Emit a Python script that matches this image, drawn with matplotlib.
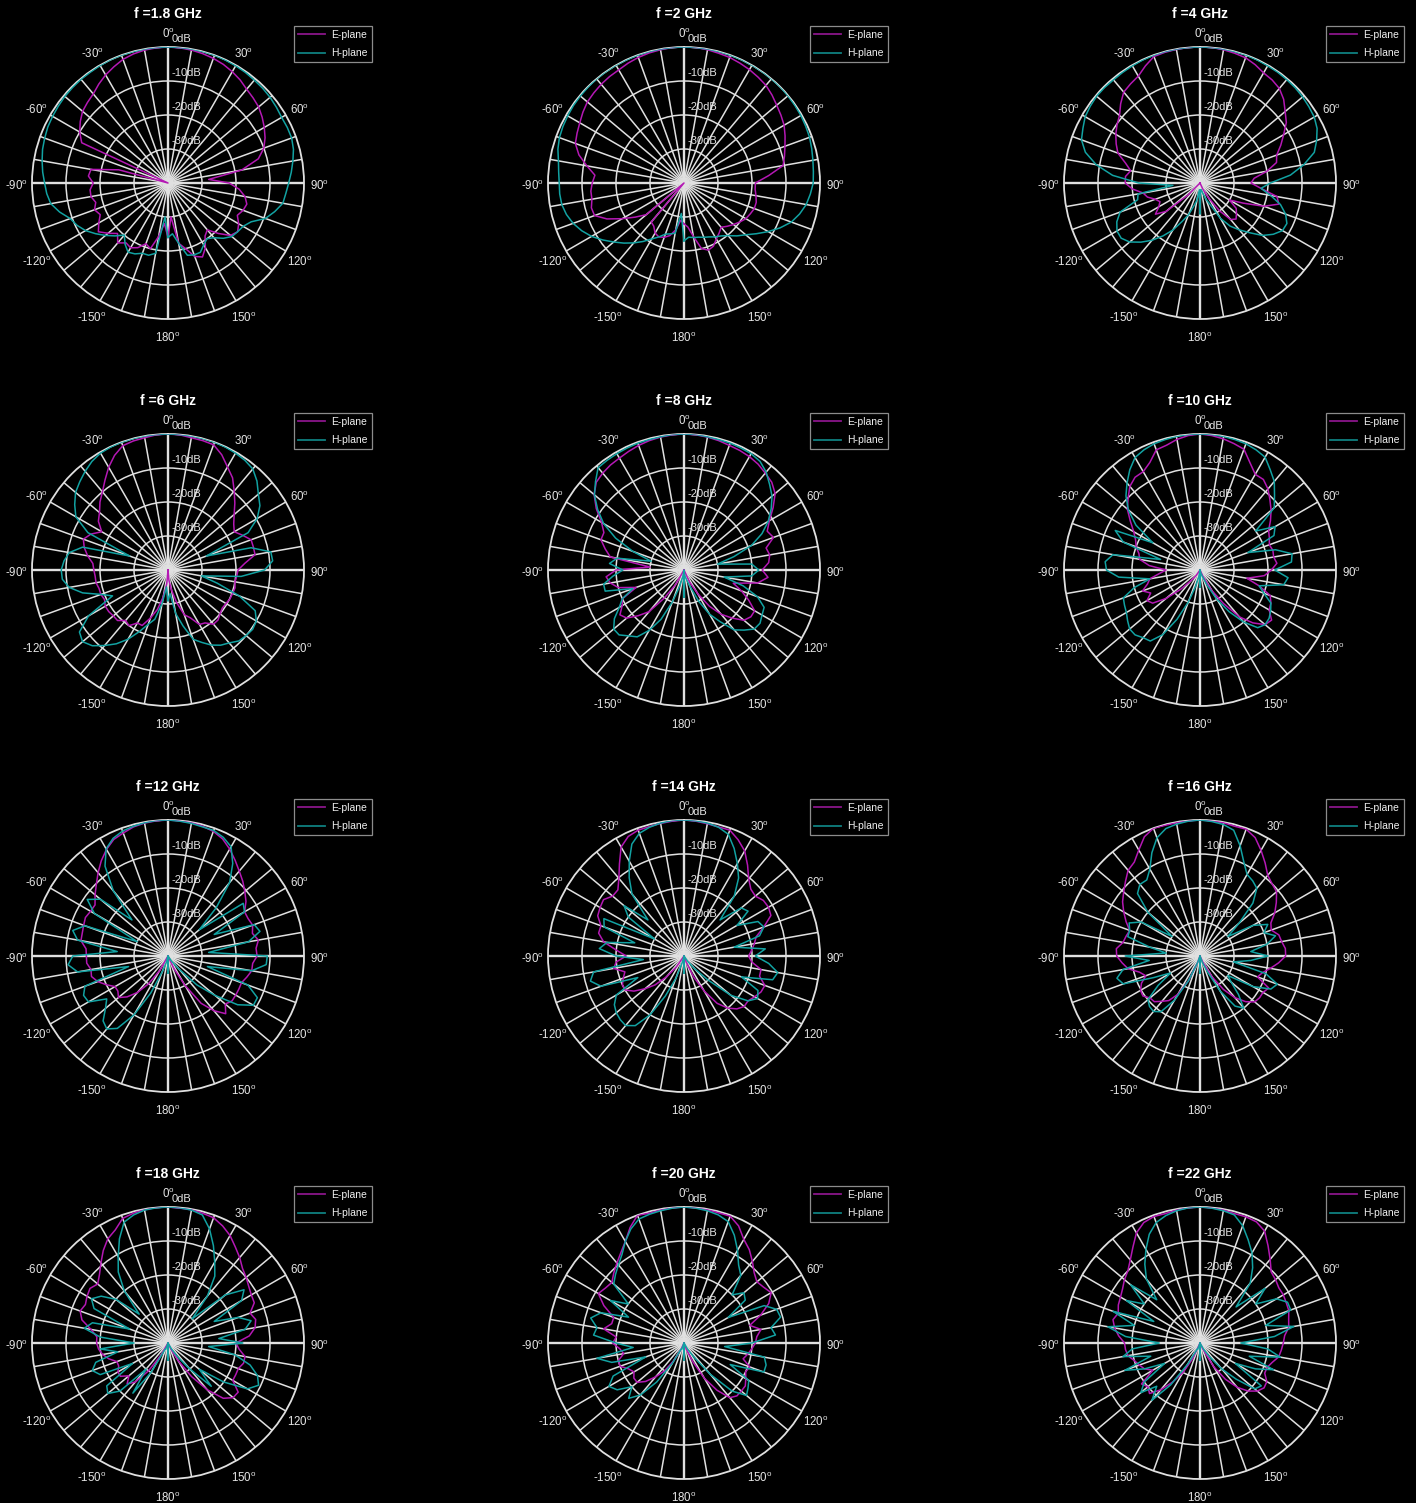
import numpy as np
import matplotlib
matplotlib.use('Agg')
import matplotlib.pyplot as plt
from matplotlib.lines import Line2D

plt.rcParams['font.family'] = ['Liberation Sans', 'DejaVu Sans']
plt.rcParams['mathtext.fontset'] = 'custom'
plt.rcParams['mathtext.rm'] = 'Liberation Sans'

W, H = 1416, 1503
STEP = 5  # angle step (deg) of every series, starting at -180

freq_labels = ['1.8', '2', '4', '6', '8', '10', '12', '14', '16', '18', '20', '22']
series_names = ['E-plane', 'H-plane']
angle_ticks = [0, 30, 60, 90, 120, 150, 180, -150, -120, -90, -60, -30]
db_rings = [0, -10, -20, -30]

# --- pattern values in dB, angles -180..180 step 5 ---
e_1p8 = [-24, -28, -24, -20, -21, -19, -18, -18.5, -17, -19, -17, -15,
         -16.5, -18, -17, -18, -17, -17, -18, -16.5, -17, -25, -40, -12,
         -10, -8.5, -7.2, -6.5, -5.8, -4.5, -3.3, -2.3, -1.3, -0.7, -0.3, -0.1,
         0, -0.1, -0.3, -0.6, -1.0, -1.5, -2.2, -3, -4, -4.6, -5.2, -6.2,
         -7.3, -8.5, -10, -12.5, -18, -28, -22, -19, -17, -16, -16.5, -17.5,
         -16, -15, -16, -19, -22, -21, -18, -16, -17, -20, -22, -30,
         -24]
h_1p8 = [-24, -30, -19, -18, -18, -17, -16.5, -18, -20, -18, -16, -14,
         -12, -10.5, -9.4, -7, -5, -4.2, -3.7, -3, -2.4, -1.8, -1.4, -1,
         -0.8, -0.6, -0.4, -0.3, -0.2, -0.2, -0.1, 0, 0, 0, 0, 0,
         0, 0, 0, 0, 0, -0.1, -0.2, -0.3, -0.5, -0.6, -0.8, -1.1,
         -1.4, -1.3, -1.3, -1.8, -2.7, -3.6, -4.5, -5.2, -5.7, -7.5, -9.5, -13,
         -14.5, -15, -15.5, -17, -19, -20, -19, -17.5, -17.5, -18, -22, -25,
         -24]
e_2 = [-28, -29, -26, -24, -23, -22.5, -23, -24.5, -25, -40, -25.5, -22.5,
       -19, -15, -12, -11.8, -12.5, -12.5, -13, -13.7, -11, -8, -6, -5.3,
       -4.6, -3.7, -2.9, -2.5, -2.1, -1.8, -1.6, -1.1, -0.7, -0.4, -0.2, 0,
       0, 0, -0.2, -0.5, -0.7, -1.1, -1.5, -2, -2.5, -3.4, -4.4, -5.2,
       -6, -7.2, -8.4, -9.4, -10.4, -15, -19, -19, -18.5, -18, -18, -18.5,
       -19, -20, -21, -22, -23, -22, -21, -19.5, -19, -20, -24, -27,
       -28]
h_2 = [-23, -31, -25, -24.5, -24, -22.5, -21, -19, -17, -15, -13, -10.8,
       -8.6, -6.8, -5.3, -4.2, -3.5, -3.3, -3.3, -3, -2.5, -1.6, -1, -0.7,
       -0.5, -0.3, -0.2, -0.1, 0, 0, 0, 0, 0, 0, 0, 0,
       0, 0, 0, 0, 0, 0, 0, 0, 0, 0, -0.1, -0.2,
       -0.3, -0.5, -0.7, -1.1, -1.5, -1.8, -2, -2.7, -3.5, -4.8, -6.4, -8.8,
       -11.4, -14, -16.3, -18, -19.8, -21, -21.7, -22.5, -23, -23.5, -23.7, -24,
       -23]
e_4 = [-40, -40, -40, -40, -40, -40, -40, -40, -40, -35, -27, -24,
       -26, -27, -26, -24, -23, -20, -18, -18, -19.3, -17.3, -14.3, -12.8,
       -11.4, -10.2, -9.1, -7, -5.1, -4.4, -3.7, -2, -0.4, -0.2, -0.1, 0,
       0, 0, -0.2, -0.5, -0.8, -1.6, -2.6, -3, -3.7, -5.2, -7.3, -9,
       -11.6, -13.8, -16, -16.7, -20, -24, -25, -22, -17, -16, -20, -26,
       -30, -27, -26, -25, -26, -30, -35, -38, -40, -40, -40, -40,
       -40]
h_4 = [-31, -38, -35, -33, -30, -27.5, -24, -21, -18, -15.4, -13, -11.7,
       -11.8, -13, -15, -21, -21.5, -32, -22, -14.2, -9, -5.1, -2.9, -2,
       -1, -0.6, -0.3, -0.3, -0.4, -0.3, -0.2, -0.1, 0, 0, 0, 0,
       0, 0, 0, 0, 0, -0.1, -0.2, -0.2, -0.3, -0.4, -0.6, -0.9,
       -1.2, -2, -3.5, -5.2, -9, -13.3, -19.3, -22, -18.9, -15.5, -13.2, -11.8,
       -12, -13.7, -16, -19.3, -22, -24.5, -28, -33, -35, -37, -38, -38,
       -31]
e_6 = [-40, -36, -32, -28, -25, -22, -22, -20, -20.6, -19, -19, -18.7,
       -18.7, -19.4, -19, -19, -18.5, -18.5, -18.2, -17.8, -16, -14.5, -13.5, -15,
       -17.5, -15, -13.7, -11.7, -10, -7.7, -5.1, -2.8, -1.1, -0.7, -0.5, -0.1,
       0, -0.1, -0.5, -0.6, -0.8, -2.6, -5, -6.9, -9.7, -12.2, -14.6, -16.4,
       -17.5, -15.8, -14, -14, -14, -17.3, -19.4, -19.7, -20, -19.6, -19.8, -19.9,
       -20.3, -20.5, -20, -19.2, -19.2, -21, -21.5, -24.5, -26, -30, -34, -37,
       -40]
h_6 = [-31, -35, -30, -25, -23, -20, -16.5, -13.5, -11, -8.5, -7.2, -8.2,
       -13, -22, -19, -14, -10.5, -8.8, -8.6, -9.3, -10.5, -14, -28, -14,
       -8.7, -6.5, -4.5, -3.3, -2.1, -1, -0.3, -0.1, 0, 0, 0, 0,
       0, 0, 0, 0, 0, -0.1, -0.3, -0.6, -1.2, -3, -5.3, -7,
       -9.7, -14, -28, -14.7, -9.3, -9.1, -11.6, -18.4, -30, -25, -17.7, -11.7,
       -10, -9.6, -10, -10.5, -12, -13, -14.5, -16.5, -18.3, -23, -27, -33,
       -31]
e_8 = [-40, -40, -40, -40, -40, -40, -35, -30, -24, -21, -18, -17,
       -19, -20, -25, -20, -18, -17, -20, -30, -18, -16, -14, -14,
       -12, -8.5, -5.5, -3.5, -2.8, -2.3, -2, -1.5, -1, -0.6, -0.3, -0.1,
       0, -0.1, -0.3, -0.6, -1, -1.2, -1.5, -2, -2.8, -3.5, -5, -8,
       -11, -13, -12, -15, -14.4, -15, -17, -15.2, -18, -25, -22, -19,
       -16, -16, -17, -20, -23, -27, -32, -36, -40, -40, -40, -40,
       -40]
h_8 = [-32, -40, -38, -35, -30, -24, -19.5, -16, -14.7, -13, -13, -15,
       -18, -20, -24, -16, -16, -19, -22, -18, -20, -30, -24, -17.8,
       -12.7, -9, -5.6, -3.2, -0.7, -0.6, -0.5, -0.4, -0.3, -0.3, -0.2, 0,
       0, 0, -0.2, -0.3, -0.3, -0.4, -0.5, -1, -2.4, -4.4, -6.2, -8.7,
       -11.4, -14.7, -18.9, -24.8, -30, -20, -18, -20, -28, -22, -17, -14,
       -13.5, -12.7, -13, -15, -17, -21.4, -25, -30, -35, -37, -38, -39,
       -32]
e_10 = [-40, -40, -40, -40, -40, -40, -40, -38, -36, -32, -27, -23,
        -22, -24, -22, -24, -25, -28, -30, -25, -22, -21.4, -20, -19.1,
        -17.5, -15, -12.1, -10.1, -7.9, -6.7, -6.6, -5.1, -2.4, -2, -1, -0.3,
        0, -0.3, -0.8, -1.5, -2.2, -5.2, -7.5, -7.5, -8.9, -10.9, -12.7, -14.7,
        -16.7, -17.5, -18.3, -17.8, -18, -17.3, -19, -21, -26, -22, -18, -17,
        -16.5, -14.3, -15, -18, -22, -28, -33, -38, -40, -40, -40, -40,
        -40]
h_10 = [-35, -40, -38, -35, -30, -24, -18, -14.5, -14, -13, -13, -14,
        -15, -15.5, -16, -20, -25, -16, -12.5, -12, -14, -28, -16, -12.5,
        -24, -17, -12.5, -9.2, -6.6, -4, -1.8, -1, -0.5, -0.3, -0.1, 0,
        0, 0, -0.1, -0.3, -0.5, -1, -1.7, -4, -6, -9, -11.5, -20,
        -14.5, -16, -25, -17, -12.5, -13, -18, -14, -15, -22, -20, -17,
        -16, -15.2, -15, -16, -20, -25, -30, -35, -38, -39, -40, -40,
        -35]
e_12 = [-40, -40, -40, -40, -40, -40, -35, -30, -26, -23, -21, -22,
        -22, -20, -18, -16.7, -17, -16, -16, -15.8, -14, -13.9, -13.6, -13.2,
        -13.7, -13.8, -12, -10.2, -8, -5.8, -3.8, -2.2, -1.5, -0.7, -0.3, -0.1,
        0, -0.1, -0.2, -0.5, -1, -2, -3.7, -5.6, -7.4, -8.9, -10.5, -12,
        -14, -14, -13.5, -14.3, -13, -14, -13.8, -15, -15, -16, -17, -17,
        -17, -17, -18, -16, -19, -23, -30, -36, -40, -40, -40, -40,
        -40]
h_12 = [-35, -40, -40, -38, -35, -28, -20, -14, -12, -13, -16, -18,
        -13, -12.6, -14, -28, -13, -10.5, -12, -25, -13, -11, -14, -30,
        -15, -11, -14, -25, -15, -7.7, -3.6, -1.8, -0.9, -0.5, -0.2, 0,
        0, -0.2, -0.4, -0.7, -0.7, -1.5, -2.9, -6.8, -11.8, -20, -28, -13,
        -14, -25, -13, -12, -16, -28, -10.8, -11, -15, -28, -15, -11,
        -11, -15, -22, -28, -35, -38, -40, -40, -40, -40, -40, -40,
        -35]
e_14 = [-40, -40, -40, -40, -40, -40, -40, -36, -32, -28, -25, -22,
        -20, -20, -21, -22, -19, -20, -23, -20, -16, -14, -14, -12,
        -11.5, -11.1, -12.6, -12.5, -10.2, -6.9, -3, -1.2, -0.6, -0.6, -0.4, -0.2,
        0, -0.2, -0.5, -0.7, -0.6, -2.3, -4.3, -7.4, -10.4, -12.2, -12.6, -11.5,
        -11.3, -11.8, -15, -18, -19, -20, -21, -20, -17, -17, -14.7, -15,
        -16, -17, -16.9, -18, -20, -23, -28, -33, -38, -40, -40, -40,
        -40]
h_14 = [-35, -40, -40, -38, -33, -27, -20, -15, -13.3, -13.5, -14, -15,
        -17, -25, -14, -11.5, -13, -28, -20, -15, -17, -25, -15, -14,
        -30, -20, -17, -25, -16.2, -11.9, -7.8, -3.7, -1.6, -0.8, -0.3, 0,
        0, -0.1, -0.3, -0.8, -1.9, -5.1, -8.6, -12, -17, -25, -18, -17,
        -22, -16, -15, -17, -25, -16, -19, -15, -12, -13, -22, -16,
        -15, -17, -22, -30, -35, -38, -40, -40, -40, -40, -40, -40,
        -35]
e_16 = [-40, -40, -40, -40, -38, -32, -27, -24, -22.6, -21, -20.8, -19.5,
        -19.8, -21, -23, -21.6, -18.5, -17, -15.5, -15.3, -17, -17.5, -18, -16,
        -14.1, -12.2, -10.7, -9, -7.1, -6.3, -4, -1.3, 0, -0.2, -0.2, -0.1,
        0, -0.1, -0.2, -0.5, -0.3, -1.6, -4.1, -6.6, -9, -10, -10.6, -12.6,
        -14.6, -17, -17.7, -16, -15.6, -14.8, -14.8, -16.8, -19, -21, -22, -17.7,
        -18.6, -18.6, -19, -21, -24, -28, -33, -38, -40, -40, -40, -40,
        -40]
h_16 = [-35, -40, -40, -40, -38, -32, -25, -20, -18.7, -19, -20, -25,
        -30, -25, -16, -14.7, -17, -25, -18, -30, -25, -18, -18, -17,
        -20, -30, -20, -14, -12.5, -12.7, -10.5, -6.5, -3, -1.2, -0.6, -0.2,
        0, -0.3, -0.7, -1.7, -5.5, -9.5, -12.3, -13, -14, -18, -25, -30,
        -22, -18, -20, -17, -20, -25, -20, -25, -30, -20, -15.8, -17,
        -22, -30, -28, -24, -20, -22, -28, -35, -38, -40, -40, -40,
        -35]
e_18 = [-40, -40, -40, -40, -40, -40, -36, -30, -25, -23, -25, -22.9,
        -23, -24, -24, -22, -20.5, -19.5, -19, -19, -17, -13.8, -12.5, -13.2,
        -12.5, -12, -13, -11.5, -9.3, -6.8, -4.6, -3.3, -1, -0.5, -0.2, 0,
        0, -0.2, -0.2, -0.5, -0.8, -2, -3.5, -5.5, -7.2, -9, -10, -11,
        -11.7, -12, -14.3, -13.3, -14, -16, -20, -19, -17, -17, -18, -18,
        -18, -14.8, -15, -17, -22, -28, -34, -38, -40, -40, -40, -40,
        -40]
h_18 = [-35, -40, -40, -40, -38, -38, -30, -22, -30, -20, -16.9, -18,
        -28, -18, -16.3, -18, -25, -20, -30, -20, -15, -17, -28, -16,
        -14, -16, -20, -28, -20, -14.5, -10.7, -6.2, -2.2, -1, -0.3, -0.1,
        0, -0.1, -0.3, -1, -4.3, -8.4, -12.5, -16, -22, -30, -18, -12.7,
        -15, -25, -18, -14.7, -17, -25, -18, -28, -20, -15, -12, -10.6,
        -13, -20, -28, -22, -30, -35, -38, -40, -40, -40, -40, -40,
        -35]
e_20 = [-40, -40, -40, -40, -40, -38, -34, -30, -27, -24, -22, -22,
        -23, -22, -20, -20, -22, -21, -19, -20, -16, -18, -18, -14,
        -10.9, -11.8, -12.3, -10.8, -9.3, -7.6, -5.5, -2.5, 0, -0.5, -0.3, -0.1,
        0, -0.1, -0.2, -0.4, -0.3, -2, -4.8, -6.5, -8.7, -10.8, -12, -11.4,
        -10.4, -12.5, -16, -20, -17, -18.5, -19, -20, -21, -22, -19.4, -20,
        -19, -18, -18, -18, -19, -23, -28, -34, -38, -40, -40, -40,
        -40]
h_20 = [-35, -40, -40, -40, -38, -38, -33, -26, -20, -17, -20, -16,
        -14.5, -17, -28, -18, -14, -25, -20, -13.3, -14, -11.6, -14, -22,
        -15, -20, -13, -11.5, -10, -8.2, -5.5, -3, -1.2, -0.8, -0.5, -0.2,
        0, -0.2, -0.5, -1, -2, -5, -8.5, -12, -14, -20, -17, -18,
        -25, -14, -11, -10.6, -14, -13, -20, -28, -16, -15, -15, -25,
        -18, -17, -16, -20, -28, -35, -38, -40, -40, -40, -40, -40,
        -35]
e_22 = [-40, -40, -40, -40, -40, -35, -30, -26, -22, -19, -20, -19,
        -24, -22, -21, -20, -18.5, -18, -17.8, -16, -14.5, -13.5, -14.4, -13.5,
        -13, -12.2, -11, -10, -8.1, -5.6, -2.6, -0.9, -0.4, -0.6, -0.3, -0.1,
        0, -0.1, -0.3, -0.6, -0.5, -0.7, -2, -5.1, -7.9, -10.4, -11, -11.7,
        -11.7, -12, -12.2, -13, -13.5, -15, -15.5, -16, -16.5, -18, -19, -19,
        -17.3, -17, -18, -20, -23, -27, -32, -38, -40, -40, -40, -40,
        -40]
h_22 = [-35, -40, -40, -40, -38, -38, -33, -25, -18, -22, -17.3, -20,
        -28, -22, -16.5, -25, -17, -20, -28, -18, -12.5, -20, -12.8, -25,
        -15, -20, -13.4, -22, -15.5, -11.7, -8.2, -4.7, -2.3, -1.2, -0.5, -0.1,
        0, -0.2, -0.5, -1, -3.3, -6.5, -9.4, -13, -17, -25, -15, -20,
        -14, -11.6, -11.6, -20, -12, -18, -28, -20, -16, -25, -17, -22,
        -28, -18, -19, -25, -30, -35, -38, -40, -40, -40, -40, -40,
        -35]

e_planes = [e_1p8, e_2, e_4, e_6, e_8, e_10, e_12, e_14, e_16, e_18, e_20, e_22]
h_planes = [h_1p8, h_2, h_4, h_6, h_8, h_10, h_12, h_14, h_16, h_18, h_20, h_22]

# --- layout (pixels) ---
col_cx = [168, 684, 1200]
row_cy = [183, 570, 956, 1343]
R_PX = 136

E_COLOR = '#b418b4'
H_COLOR = '#12a2a2'
GRID_COLOR = '#e0e0e0'
TEXT_COLOR = '#e6e6e6'

fig = plt.figure(figsize=(W / 100, H / 100), dpi=100, facecolor='black')

def r_at_px(px):
    return px / R_PX * 40.0 - 40.0

for k, (fl, ev, hv) in enumerate(zip(freq_labels, e_planes, h_planes)):
    cx = col_cx[k % 3]
    cy = row_cy[k // 3]
    ax = fig.add_axes([(cx - R_PX) / W, 1 - (cy + R_PX) / H, 2 * R_PX / W, 2 * R_PX / H],
                      projection='polar')
    ax.set_facecolor('black')
    ax.set_theta_zero_location('N')
    ax.set_theta_direction(-1)
    ax.set_thetagrids(np.arange(0, 360, 10), labels=[''] * 36)
    ax.set_rgrids([-30, -20, -10], labels=[''] * 3)
    ax.grid(True, color=GRID_COLOR, lw=1.1)
    ax.spines['polar'].set_color(GRID_COLOR)
    ax.spines['polar'].set_linewidth(1.3)
    ax.tick_params(length=0)
    # emphasised axes lines
    for a in (0, 90):
        ax.plot(np.deg2rad([a, a]), [-40, 0], color=GRID_COLOR, lw=1.7, zorder=1)
        ax.plot(np.deg2rad([a + 180, a + 180]), [-40, 0], color=GRID_COLOR, lw=1.7, zorder=1)

    ang_e = np.deg2rad(np.arange(len(ev)) * STEP - 180)
    ang_h = np.deg2rad(np.arange(len(hv)) * STEP - 180)
    le, = ax.plot(ang_e, np.clip(ev, -40, 0), color=E_COLOR, lw=1.1, zorder=3)
    lh, = ax.plot(ang_h, np.clip(hv, -40, 0), color=H_COLOR, lw=1.1, zorder=3)
    ax.set_ylim(-40, 0)

    # angle labels
    r_lab = r_at_px(152)
    for a in angle_ticks:
        ax.annotate(f'{a}$^{{\\mathrm{{o}}}}$', xy=(np.deg2rad(a), r_lab),
                    xytext=(0, -2.2), textcoords='offset points',
                    ha='center', va='center', fontsize=8.3, color=TEXT_COLOR,
                    annotation_clip=False)
    # dB labels
    for d in db_rings:
        ax.annotate(f'{d}dB', xy=(0, d), xytext=(2.5, 5.5), textcoords='offset points',
                    ha='left', va='center', fontsize=8, color=TEXT_COLOR,
                    annotation_clip=False, zorder=5)

    fig.text(cx / W, 1 - (cy - 169) / H, f'f ={fl} GHz', ha='center', va='center',
             fontsize=10, fontweight='bold', color='white')

    h_e = Line2D([], [], color='#8a168a', lw=1.3)
    h_h = Line2D([], [], color='#0f8080', lw=1.3)
    leg = ax.legend([h_e, h_h], series_names, loc='upper left',
                    bbox_to_anchor=((cx + 126) / W, 1 - (cy - 157) / H),
                    bbox_transform=fig.transFigure, frameon=True, fancybox=False,
                    facecolor='black', edgecolor='#b0b0b0', fontsize=7.5,
                    labelcolor='#f0f0f0', handlelength=2.6, handletextpad=0.6,
                    borderpad=0.37, labelspacing=0.8, borderaxespad=0)
    leg.get_frame().set_linewidth(0.9)

fig.savefig('out.png', dpi=100, facecolor='black')
